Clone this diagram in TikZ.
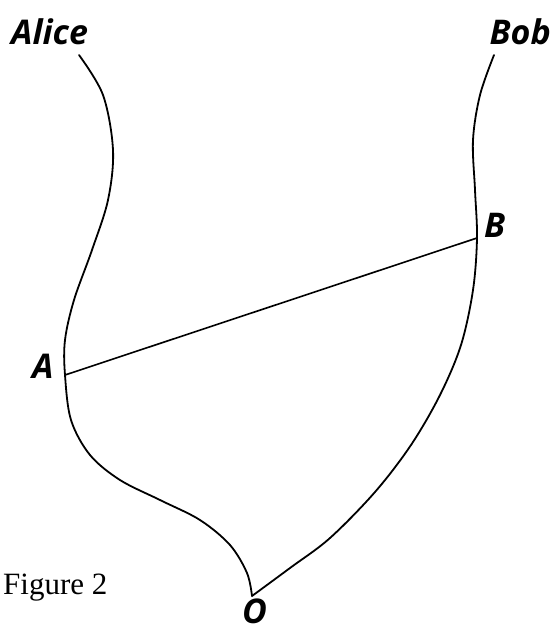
\documentclass[tikz,border=0pt]{standalone}
\usepackage{fontspec}
\setmainfont{Liberation Serif}
\setsansfont{Open Sans}
\usepackage{tikz}
\usetikzlibrary{positioning, calc}

\begin{document}
\begin{tikzpicture}[x=1pt, y=-1pt]
  \tikzstyle{who}=[inner sep=0pt, font=\fontsize{34}{37}\selectfont\sffamily\bfseries\itshape]
  \tikzstyle{event}=[inner sep=0pt, font=\fontsize{34}{37}\selectfont\sffamily\bfseries\itshape]
  \tikzstyle{worldline}=[line width=1.8pt, line cap=round, line join=round]
  \useasboundingbox (0,0) rectangle (555,632);
  % events
  \coordinate (A) at (65,375);
  \coordinate (B) at (477,238);
  \coordinate (O) at (252,596);
  \coordinate (alicetop) at (79,55);
  \coordinate (bobtop) at (494,55);
  % labels
  \node[who, anchor=base west] (alice) at (11,44) {Alice};
  \node[who, anchor=base east] (bob) at (551,44) {Bob};
  \node[event, anchor=base west] (lA) at (32,378) {A};
  \node[event, anchor=base west] (lB) at (484,237) {B};
  \node[event, anchor=base west] (lO) at (242,623) {O};
  \node[anchor=base west, inner sep=0pt, font=\fontsize{31}{34}\selectfont] (cap) at (3,594) {Figure 2};
  % world lines
  \draw[worldline] plot[smooth, tension=0.55] coordinates {(alicetop) (103,95) (113,150) (108,200) (92,250)
    (74,300) (65,340) (A) (71,420) (90,455) (120,480) (160,500) (200,520) (230,545) (247,573) (O)};
  \draw[worldline] plot[smooth, tension=0.55] coordinates {(bobtop) (480,95) (473,140) (475,190) (B)
    (473,290) (461,345) (440,395) (411,445) (375,492) (330,538) (290,568) (O)};
  \draw[line width=1.6pt] (A) -- (B);
\end{tikzpicture}
\end{document}
